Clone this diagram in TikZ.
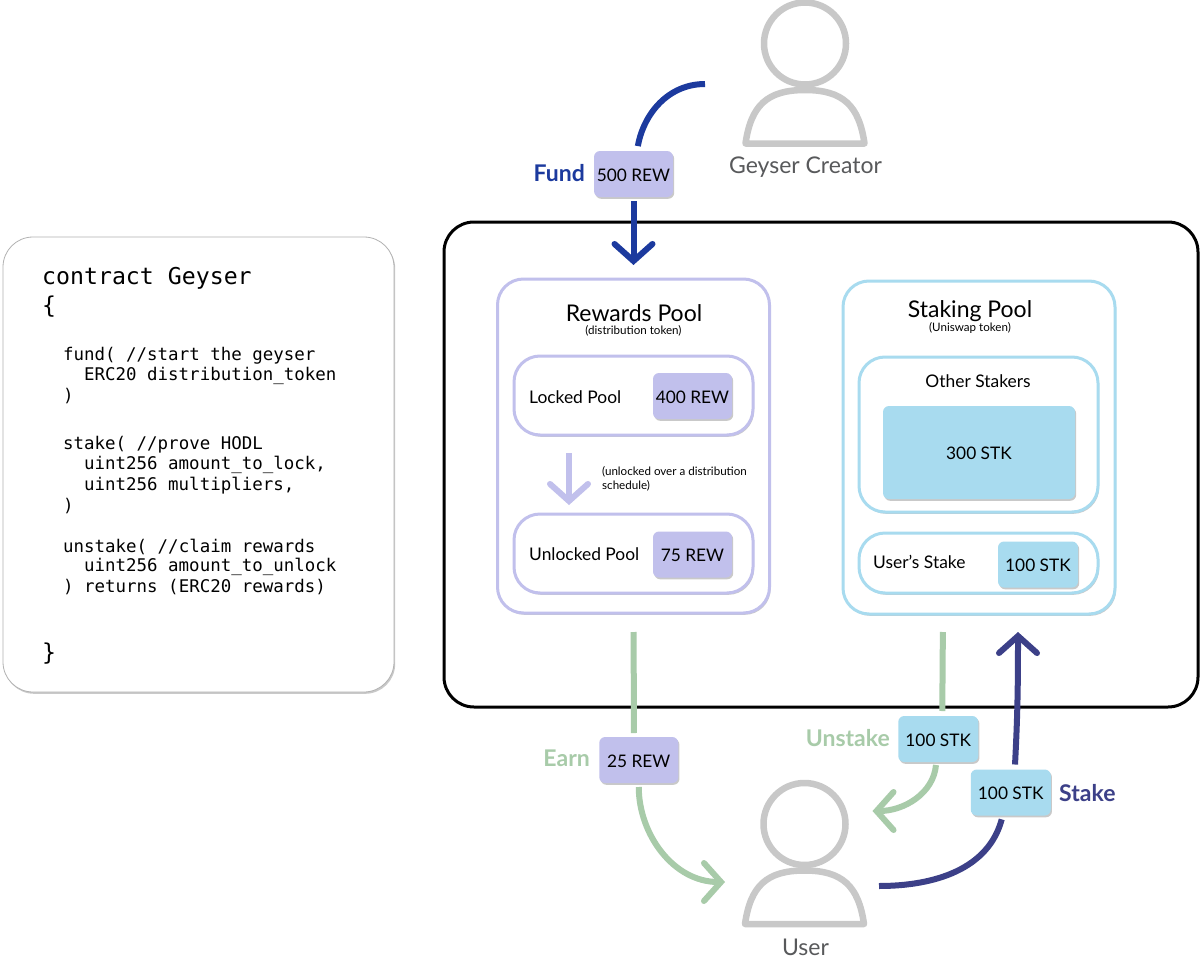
\documentclass[tikz,border=0pt]{standalone}
\usepackage{fontspec}
\usepackage{xcolor}
\setmainfont{Lato}
\newfontfamily\codefont{DejaVu Sans Mono}
\usetikzlibrary{arrows.meta,shadows}
\definecolor{rewfill}{HTML}{C1C0EC}
\definecolor{stkfill}{HTML}{A8DBEF}
\definecolor{fundblue}{HTML}{1C3A9E}
\definecolor{stakeblue}{HTML}{3C4088}
\definecolor{earngreen}{HTML}{A8CBA9}
\definecolor{icongray}{HTML}{C8C8C8}
\definecolor{namegray}{HTML}{58595B}
\newcommand{\fs}[1]{\fontsize{#1}{#1}\selectfont}

\begin{document}
\begin{tikzpicture}[x=1pt,y=-1pt,>={Straight Barb[length=17pt,width=38pt,line cap=round]}]
\tikzstyle{softshadow}=[drop shadow={shadow xshift=1.2pt,shadow yshift=-1.8pt,opacity=.35,fill=black!60}]
\tikzstyle{pool}=[draw,rectangle,rounded corners=26pt,line width=3pt,fill=white,outer sep=0pt,softshadow]
\tikzstyle{rewpool}=[pool,draw=rewfill]
\tikzstyle{stkpool}=[pool,draw=stkfill]
\tikzstyle{token}=[rectangle,rounded corners=6pt,outer sep=0pt,inner sep=0pt,softshadow,text height=14.5pt,text depth=0pt,font=\fs{17.3}]
\tikzstyle{rewtoken}=[token,fill=rewfill,minimum width=79pt,minimum height=46pt]
\tikzstyle{stktoken}=[token,fill=stkfill,minimum width=80pt,minimum height=46pt]
\tikzstyle{poolname}=[inner sep=0pt,font=\fs{17.4}]
\tikzstyle{title}=[inner sep=0pt,font=\fs{23}]
\tikzstyle{subtitle}=[inner sep=0pt,font=\fs{11.6}]
\tikzstyle{action}=[inner sep=0pt,font=\fs{23}\bfseries]
\tikzstyle{actor}=[inner sep=0pt,text=namegray,font=\fs{23}]
\tikzstyle{code}=[inner sep=0pt,anchor=west,yshift=-1.5pt,font=\codefont\fs{17.45}]
\tikzstyle{bigcode}=[code,font=\codefont\fs{23.2}]
\tikzstyle{icon}=[draw=icongray,line width=6.5pt,line join=round]
\tikzstyle{flow}=[line width=6pt]
\useasboundingbox (0,0) rectangle (1200,961);
\fill[white] (0,0) rectangle (1200,961);
% code card
\node[draw=black!30,fill=white,line width=.8pt,rectangle,rounded corners=30pt,minimum width=391pt,minimum height=455pt,softshadow] (contract) at (198.5,464.5) {};
\node[bigcode] (contract_name) at (42,277) {contract Geyser};
\node[bigcode] (contract_open) at (42,305) {\{};
\node[bigcode] (contract_close) at (42,652) {\}};
\foreach \xpos/\ypos/\line in {63/354/{fund( //start the geyser},84/374.5/{ERC20 distribution\_token},63/395/),
  63/443/{stake( //prove HODL},84/463.5/{uint256 amount\_to\_lock,},84/484/{uint256 multipliers,},63/504.5/),
  63/545/{unstake( //claim rewards},84/565.5/{uint256 amount\_to\_unlock},63/586/{) returns (ERC20 rewards)}}
  \node[code] (code_\ypos) at (\xpos,\ypos) {\line};
% contract boundary
\node[draw,rectangle,rounded corners=30pt,line width=3pt,minimum width=754pt,minimum height=485pt] (geyser) at (821,464.5) {};
% pools
\node[rewpool,minimum width=272pt,minimum height=334pt] (rewards) at (633.5,446) {};
\node[stkpool,minimum width=272pt,minimum height=333pt] (staking) at (979,447.5) {};
\node[rewpool,minimum width=239pt,minimum height=79pt] (locked) at (633.5,395.5) {};
\node[rewpool,minimum width=239pt,minimum height=79pt] (unlocked) at (633.5,553.5) {};
\node[stkpool,minimum width=239pt,minimum height=155pt] (others) at (978.5,434.5) {};
\node[stkpool,minimum width=239pt,minimum height=60pt] (userstake) at (978.5,563) {};
\node[title] (rewards_title) at (634,313) {Rewards Pool};
\node[subtitle] (rewards_sub) at (633.5,331) {(distribution token)};
\node[title] (staking_title) at (970,311) {Staking Pool};
\node[subtitle] (staking_sub) at (970,328) {(Uniswap token)};
\node[poolname,anchor=west] (locked_name) at (529,397) {Locked Pool};
\node[poolname,anchor=west] (unlocked_name) at (529,554) {Unlocked Pool};
\node[poolname] (others_name) at (978,381) {Other Stakers};
\node[poolname,anchor=west] (userstake_name) at (873,562) {User’s Stake};
\node[subtitle,anchor=west,align=left,font=\fs{11.6}\linespread{1.2}\selectfont] (schedule) at (602,478.5) {(unlocked over a distribution\\schedule)};
% tokens
\foreach \pos/\name/\amount in {{(633.5,174)/fund_box/500 REW},{(692.5,396)/locked_box/400 REW},{(692.5,554.5)/unlocked_box/75 REW},{(638.75,760)/earn_box/25 REW}}
  \node[rewtoken] (\name) at \pos {\amount};
\foreach \pos/\name/\amount in {{(1038,564.5)/userstake_box/100 STK},{(938.25,739)/unstake_box/100 STK},{(1010.75,792.5)/stake_box/100 STK}}
  \node[stktoken] (\name) at \pos {\amount};
\node[stktoken,minimum width=192pt,minimum height=93pt] (others_box) at (979,452.5) {300 STK};
% people
\foreach \cx/\cy/\name in {805/43.5/creator,804.5/824/user}{
  \node[icon,circle,minimum size=82pt,inner sep=0pt,outer sep=0pt] (\name_head) at (\cx,\cy) {};
  \draw[icon,shift={(\cx,\cy)}] (-59.5,100) .. controls (-54,62) and (-38,46.5) .. (0,46.5) .. controls (38,46.5) and (54,62) .. (59.5,100) -- cycle;
}
\node[actor] (creator_name) at (805.5,167) {Geyser Creator};
\node[actor] (user_name) at (805.5,947) {User};
% free ends
\coordinate (creator_out) at (705,84);
\coordinate (user_in_left) at (725,882);
\coordinate (user_in_right) at (872.5,811);
\coordinate (user_out) at (879,886);
\coordinate (stake_tip) at (1018,632);
% flows
\draw[flow,draw=fundblue,shorten >=5pt] (creator_out) to[out=180,in=80] ([xshift=3.5pt]fund_box.north);
\draw[flow,->,draw=fundblue,shorten <=4pt,shorten >=14pt] (fund_box.south) to (rewards.north);
\draw[flow,->,draw=rewfill] (569,453) to (569,505);
\draw[flow,draw=earngreen,shorten <=19pt,shorten >=4pt] (rewards.south) to ([xshift=-4.75pt]earn_box.north);
\draw[flow,->,draw=earngreen,shorten <=4pt] (earn_box.south) to[out=-90,in=180] (user_in_left);
\draw[flow,draw=earngreen,shorten <=18pt,shorten >=5pt] ([xshift=-36pt]staking.south) to ([xshift=4pt]unstake_box.north);
\draw[flow,->,draw=earngreen,shorten <=3pt] ([xshift=-2pt]unstake_box.south) to[out=-95,in=0] (user_in_right);
\draw[flow,draw=stakeblue,shorten >=4pt] (user_out) to[out=0,in=-105] ([xshift=-8pt]stake_box.south);
\draw[flow,->,draw=stakeblue,shorten <=5pt] ([xshift=4pt]stake_box.north) to[out=87,in=-90] (stake_tip);
% actions
\node[action,text=fundblue,anchor=east] (fund_label) at (585,173) {Fund};
\node[action,text=earngreen,anchor=east] (earn_label) at (590,758) {Earn};
\node[action,text=earngreen,anchor=east] (unstake_label) at (890,738) {Unstake};
\node[action,text=stakeblue,anchor=west] (stake_label) at (1059,793) {Stake};
\end{tikzpicture}
\end{document}
